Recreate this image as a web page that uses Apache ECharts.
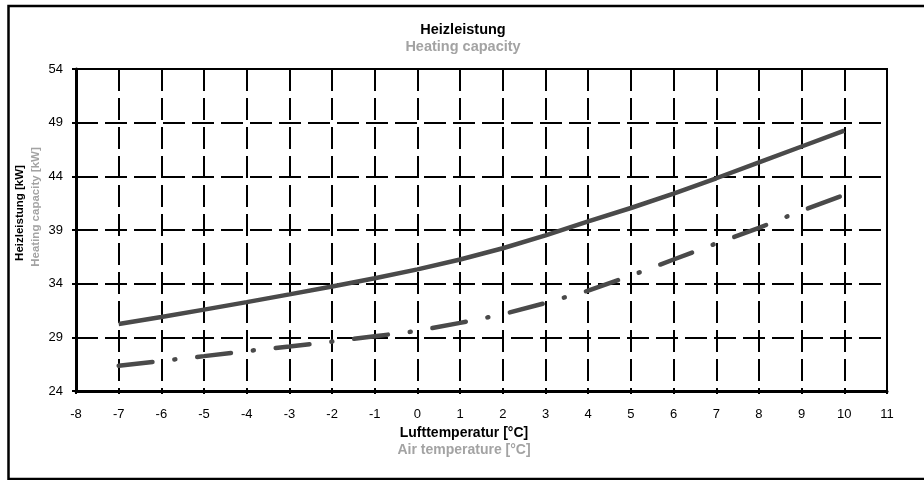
<!DOCTYPE html>
<html>
<head>
<meta charset="utf-8">
<script src="https://cdn.jsdelivr.net/npm/echarts@6/dist/echarts.min.js"></script>
<style>
  html, body { margin: 0; padding: 0; background: #fff; }
  #chart { width: 924px; height: 480px; }
</style>
</head>
<body>
<div id="chart"></div>
<script>
// Lufttemperatur [°C]
const temps = [-7, -6, -5, -4, -3, -2, -1, 0, 1, 2, 3, 4, 5, 6, 7, 8, 9, 10];
// Heizleistung [kW], durchgezogene Linie
const heatingA = [30.24, 30.9, 31.58, 32.28, 33.0, 33.73, 34.5, 35.33, 36.25, 37.3, 38.5, 39.8, 41.05, 42.4, 43.82, 45.3, 46.78, 48.26];
// Heizleistung [kW], Strich-Punkt-Linie
const heatingB = [26.36, 26.8, 27.25, 27.72, 28.15, 28.6, 29.1, 29.6, 30.35, 31.15, 32.2, 33.35, 34.75, 36.25, 37.75, 39.2, 40.8, 42.27];

const FONT = "'Liberation Sans', Arial, sans-serif";
const GREY = "#a3a3a3";

const chart = echarts.init(document.getElementById("chart"));

const pairs = (ys) => temps.map((t, i) => [t, ys[i]]);

const option = {
  animation: false,
  backgroundColor: "#fff",
  grid: {
    left: 76,
    right: 37,
    top: 69,
    bottom: 89,
    show: true,
    borderColor: "#000",
    borderWidth: 2,
  },
  xAxis: {
    type: "value",
    min: -8,
    max: 11,
    interval: 1,
    axisLine: { show: true, onZero: false, lineStyle: { color: "#000", width: 3 } },
    axisTick: { show: true, length: 3, lineStyle: { color: "#000", width: 2 } },
    axisLabel: { color: "#000", fontSize: 13, fontFamily: FONT, margin: 17 },
    splitLine: { show: true, lineStyle: { color: "#000", width: 2, type: [22, 7] } },
  },
  yAxis: {
    type: "value",
    min: 24,
    max: 54,
    interval: 5,
    axisLine: { show: true, onZero: false, lineStyle: { color: "#000", width: 3 } },
    axisTick: { show: true, length: 4, lineStyle: { color: "#000", width: 2 } },
    axisLabel: { color: "#000", fontSize: 13, fontFamily: FONT, margin: 13 },
    splitLine: { show: true, lineStyle: { color: "#000", width: 2, type: [22, 7] } },
  },
  series: [
    {
      type: "line",
      data: pairs(heatingA),
      showSymbol: false,
      symbol: "none",
      lineStyle: { color: "#4a4a4a", width: 4.5 },
    },
    {
      type: "line",
      data: pairs(heatingB),
      showSymbol: false,
      symbol: "none",
      lineStyle: { color: "#4a4a4a", width: 4.5, type: [34, 22, 1, 22], cap: "round" },
    },
  ],
  graphic: [
    {
      type: "rect",
      silent: true,
      shape: { x: 8.5, y: 6, width: 940, height: 473 },
      style: { fill: "none", stroke: "#000", lineWidth: 2.5 },
    },
    {
      type: "text", x: 463, y: 30,
      style: { text: "Heizleistung", fill: "#000", font: "bold 14.5px " + FONT, align: "center", verticalAlign: "middle" },
    },
    {
      type: "text", x: 463, y: 47,
      style: { text: "Heating capacity", fill: GREY, font: "bold 14.5px " + FONT, align: "center", verticalAlign: "middle" },
    },
    {
      type: "text", x: 464, y: 433,
      style: { text: "Lufttemperatur [°C]", fill: "#000", font: "bold 14px " + FONT, align: "center", verticalAlign: "middle" },
    },
    {
      type: "text", x: 464, y: 450,
      style: { text: "Air temperature [°C]", fill: GREY, font: "bold 14px " + FONT, align: "center", verticalAlign: "middle" },
    },
    {
      type: "text", x: 20, y: 213, rotation: Math.PI / 2,
      style: { text: "Heizleistung [kW]", fill: "#000", font: "bold 11.5px " + FONT, align: "center", verticalAlign: "middle" },
    },
    {
      type: "text", x: 36, y: 207, rotation: Math.PI / 2,
      style: { text: "Heating capacity [kW]", fill: GREY, font: "bold 11.5px " + FONT, align: "center", verticalAlign: "middle" },
    },
  ],
};

chart.setOption(option);
</script>
</body>
</html>
